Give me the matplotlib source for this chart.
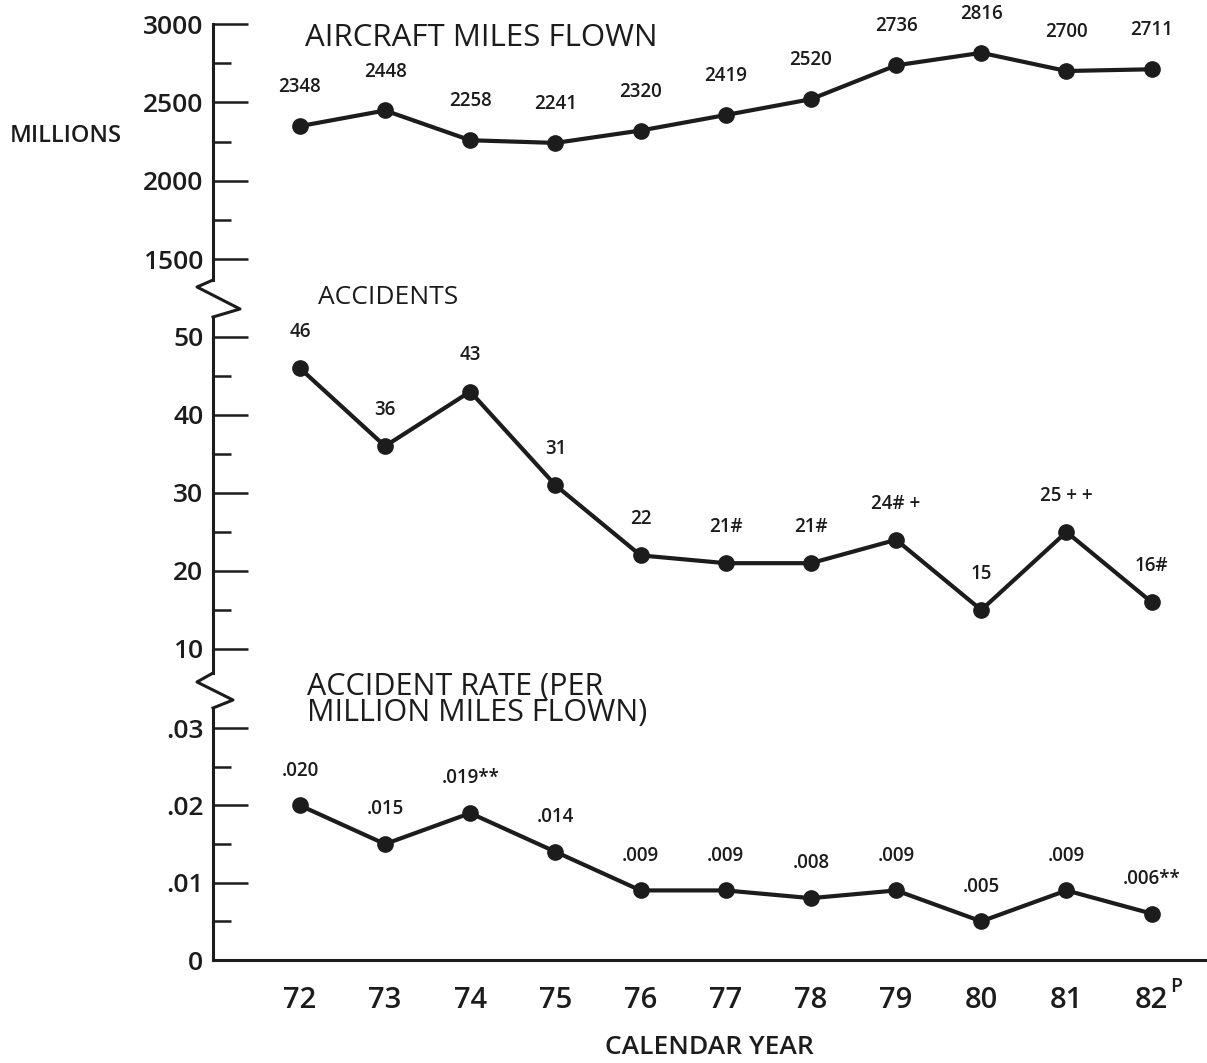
import matplotlib
matplotlib.use("Agg")
import matplotlib.pyplot as plt
from matplotlib.lines import Line2D
from matplotlib.ticker import MultipleLocator

plt.rcParams['font.family'] = ['Open Sans', 'DejaVu Sans']

# data
years = [72, 73, 74, 75, 76, 77, 78, 79, 80, 81, 82]
year_labels = ['72', '73', '74', '75', '76', '77', '78', '79', '80', '81', '82']
miles = [2348, 2448, 2258, 2241, 2320, 2419, 2520, 2736, 2816, 2700, 2711]
miles_labels = ['2348', '2448', '2258', '2241', '2320', '2419', '2520', '2736', '2816', '2700', '2711']
accidents = [46, 36, 43, 31, 22, 21, 21, 24, 15, 25, 16]
accident_labels = ['46', '36', '43', '31', '22', '21#', '21#', '24# +', '15', '25 + +', '16#']
rate = [0.020, 0.015, 0.019, 0.014, 0.009, 0.009, 0.008, 0.009, 0.005, 0.009, 0.006]
rate_labels = ['.020', '.015', '.019**', '.014', '.009', '.009', '.008', '.009', '.005', '.009', '.006**']

INK = '#1c1c1c'
W, H = 1207, 1063
fig = plt.figure(figsize=(W / 100, H / 100), dpi=100)


def fx(px):
    return px / W


def fy(py):
    return 1 - py / H


def make_axes(top_px, bot_px):
    return fig.add_axes([fx(213), fy(bot_px), 1 - fx(213), (bot_px - top_px) / H])


ax_top = make_axes(24, 280)
ax_mid = make_axes(317, 673)
ax_bot = make_axes(708, 960)

ax_top.set_ylim(1366, 3000)
ax_mid.set_ylim(6.92, 52.56)
ax_bot.set_ylim(0, 0.0326)

for ax in (ax_top, ax_mid, ax_bot):
    ax.set_xlim(70.98, 82.65)
    ax.patch.set_visible(False)
    for s in ('top', 'right'):
        ax.spines[s].set_visible(False)
    ax.spines['left'].set_linewidth(2.2)
    ax.spines['left'].set_color(INK)
    ax.tick_params(axis='y', which='major', direction='in', length=25, width=1.8,
                   labelsize=19, pad=7, color=INK, labelcolor=INK)
    ax.tick_params(axis='y', which='minor', direction='in', length=13, width=1.8, color=INK)
    ax.tick_params(axis='x', length=0)

for ax in (ax_top, ax_mid):
    ax.spines['bottom'].set_visible(False)
    ax.set_xticks([])

ax_top.set_yticks([1500, 2000, 2500, 3000])
ax_top.yaxis.set_minor_locator(MultipleLocator(250))
ax_mid.set_yticks([10, 20, 30, 40, 50])
ax_mid.yaxis.set_minor_locator(MultipleLocator(5))
ax_bot.set_yticks([0, 0.01, 0.02, 0.03])
ax_bot.set_yticklabels(['0', '.01', '.02', '.03'])
ax_bot.yaxis.set_minor_locator(MultipleLocator(0.005))
for ax in (ax_top, ax_mid, ax_bot):
    for lab in ax.get_yticklabels():
        lab.set_fontweight('semibold')

ax_bot.spines['bottom'].set_linewidth(2.2)
ax_bot.spines['bottom'].set_color(INK)
ax_bot.set_xticks(years)
ax_bot.set_xticklabels(year_labels, fontsize=21, fontweight='semibold', color=INK)
ax_bot.tick_params(axis='x', pad=19)


def series(ax, values, labels, dy):
    ax.plot(years, values, color=INK, lw=3, marker='o', ms=11, clip_on=False)
    for x, v, t in zip(years, values, labels):
        ax.annotate(t, (x, v), xytext=(0, dy), textcoords='offset points',
                    ha='center', va='center', fontsize=13.5, fontweight='semibold', color=INK)


series(ax_top, miles, miles_labels, 28)
series(ax_mid, accidents, accident_labels, 26)
series(ax_bot, rate, rate_labels, 25)

# axis breaks
for pts in ([(213, 280), (197, 287), (240, 309), (213, 317)],
            [(213, 673), (197, 682), (233, 700), (213, 708)]):
    fig.add_artist(Line2D([fx(p[0]) for p in pts], [fy(p[1]) for p in pts],
                          transform=fig.transFigure, color=INK, lw=2.2))

title_kw = dict(va='center', ha='left', color=INK, fontweight='medium')
fig.text(fx(305), fy(38), 'AIRCRAFT MILES FLOWN', fontsize=22.5, **title_kw)
fig.text(fx(318), fy(297), 'ACCIDENTS', fontsize=19, **title_kw)
fig.text(fx(307), fy(700), 'ACCIDENT RATE (PER\nMILLION MILES FLOWN)', fontsize=22,
         linespacing=0.8, **title_kw)
fig.text(fx(10), fy(136), 'MILLIONS', fontsize=17, va='center', ha='left', color=INK, fontweight='semibold')
fig.text(fx(709), fy(1047), 'CALENDAR YEAR', fontsize=19, va='center', ha='center', color=INK,
         fontweight='semibold')
fig.text(fx(1170), fy(987), 'P', fontsize=14, va='center', ha='left', color=INK, fontweight='semibold')

fig.savefig('out.png', dpi=100)
